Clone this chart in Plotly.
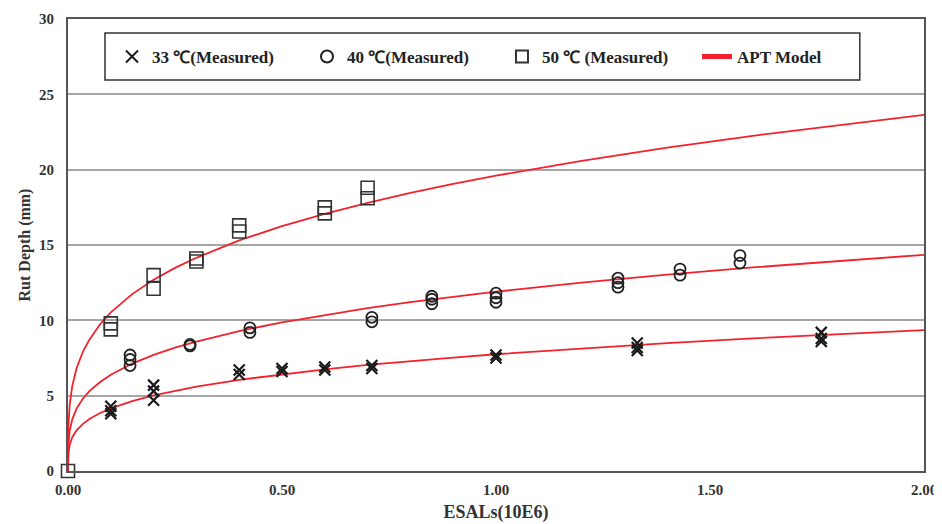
import plotly.graph_objects as go

# Measured data
x33 = [0.10, 0.10, 0.10, 0.20, 0.20, 0.20, 0.40, 0.40, 0.50, 0.50, 0.60, 0.60,
       0.71, 0.71, 1.00, 1.00, 1.33, 1.33, 1.33, 1.76, 1.76, 1.76]
y33 = [4.3, 4.0, 3.8, 5.7, 5.3, 4.7, 6.7, 6.4, 6.8, 6.6, 6.9, 6.7,
       7.0, 6.8, 7.7, 7.5, 8.5, 8.2, 8.0, 9.2, 8.8, 8.6]

x40 = [0.145, 0.145, 0.145, 0.285, 0.285, 0.425, 0.425, 0.71, 0.71, 0.85, 0.85, 0.85,
       1.00, 1.00, 1.00, 1.285, 1.285, 1.285, 1.43, 1.43, 1.57, 1.57]
y40 = [7.7, 7.4, 7.0, 8.4, 8.3, 9.5, 9.2, 10.2, 9.9, 11.6, 11.4, 11.1,
       11.8, 11.5, 11.2, 12.8, 12.5, 12.2, 13.4, 13.0, 14.3, 13.8]

x50 = [0.0, 0.10, 0.10, 0.20, 0.20, 0.30, 0.30, 0.40, 0.40, 0.60, 0.60, 0.70, 0.70]
y50 = [0.0, 9.8, 9.4, 13.0, 12.1, 14.1, 13.9, 16.3, 15.9, 17.5, 17.1, 18.8, 18.1]

# APT model curves
x_model = [0, 0.001, 0.004, 0.01, 0.02, 0.035, 0.05, 0.075, 0.1, 0.15, 0.2, 0.25,
           0.3, 0.4, 0.5, 0.6, 0.7, 0.8, 0.9, 1.0, 1.2, 1.4, 1.6, 1.8, 2.0]
y_model_50 = [0, 3.04, 4.41, 5.65, 6.82, 7.93, 8.72, 9.74, 10.53, 11.74, 12.70, 13.48,
              14.15, 15.31, 16.25, 17.07, 17.80, 18.46, 19.05, 19.6, 20.58, 21.46, 22.25, 22.97, 23.64]
y_model_40 = [0, 1.84, 2.68, 3.43, 4.14, 4.81, 5.30, 5.91, 6.39, 7.13, 7.71, 8.19,
              8.59, 9.29, 9.87, 10.36, 10.81, 11.21, 11.57, 11.9, 12.50, 13.03, 13.51, 13.95, 14.35]
y_model_33 = [0, 1.20, 1.74, 2.24, 2.70, 3.13, 3.45, 3.85, 4.16, 4.64, 5.02, 5.33,
              5.60, 6.05, 6.42, 6.75, 7.04, 7.30, 7.53, 7.75, 8.14, 8.49, 8.80, 9.08, 9.35]

x_ticks = [0.0, 0.5, 1.0, 1.5, 2.0]
x_ticktext = ["0.00", "0.50", "1.00", "1.50", "2.00"]
y_ticks = [0, 5, 10, 15, 20, 25, 30]

names = ["33 ℃(Measured)", "40 ℃(Measured)", "50 ℃ (Measured)", "APT Model"]

SERIF = "Liberation Serif, Times New Roman, serif"
RED = "#f2222c"

fig = go.Figure()

for i, ym in enumerate([y_model_50, y_model_40, y_model_33]):
    fig.add_trace(go.Scatter(
        x=x_model, y=ym, mode="lines",
        line=dict(color=RED, width=1.8),
        name=names[3], legendgroup="apt", showlegend=(i == 0),
        legendrank=4, cliponaxis=True,
    ))

fig.add_trace(go.Scatter(
    x=x33, y=y33, mode="markers", name=names[0], legendrank=1, cliponaxis=False,
    marker=dict(symbol="x-thin-open", size=11, color="#1a1a1a",
                line=dict(color="#1a1a1a", width=2.2)),
))
fig.add_trace(go.Scatter(
    x=x40, y=y40, mode="markers", name=names[1], legendrank=2, cliponaxis=False,
    marker=dict(symbol="circle-open", size=11, color="#222",
                line=dict(color="#222", width=1.8)),
))
fig.add_trace(go.Scatter(
    x=x50, y=y50, mode="markers", name=names[2], legendrank=3, cliponaxis=False,
    marker=dict(symbol="square-open", size=13, color="#333",
                line=dict(color="#333", width=1.6)),
))

# legend frame
fig.add_shape(type="rect", xref="paper", yref="paper",
              x0=0.0432, x1=0.925, y0=0.865, y1=0.969,
              line=dict(color="#333", width=1.5), fillcolor="white", layer="below")

fig.update_layout(
    width=942, height=516,
    margin=dict(l=60, r=26, t=11, b=53),
    paper_bgcolor="white", plot_bgcolor="white",
    font=dict(family=SERIF, color="#222"),
    showlegend=True,
    legend=dict(
        orientation="h",
        x=0.0514, xanchor="left", y=0.916, yanchor="middle",
        bgcolor="rgba(0,0,0,0)", borderwidth=0,
        font=dict(family=SERIF, size=17, color="#222", weight="bold"),
        entrywidth=150, entrywidthmode="pixels",
        itemsizing="constant",
    ),
    xaxis=dict(
        range=[0, 2.0], tickvals=x_ticks, ticktext=x_ticktext,
        showgrid=False, zeroline=False, automargin=False,
        showline=True, linecolor="#555", linewidth=2, mirror=True,
        ticks="", ticklabelstandoff=4,
        tickfont=dict(family=SERIF, size=15, color="#333", weight="bold"),
        title=dict(text="ESALs(10E6)", standoff=8,
                   font=dict(family=SERIF, size=18, color="#333", weight="bold")),
    ),
    yaxis=dict(
        range=[0, 30], tickvals=y_ticks,
        showgrid=True, gridcolor="#a6a6a6", gridwidth=1.5, zeroline=False,
        automargin=False,
        showline=True, linecolor="#555", linewidth=2, mirror=True,
        ticks="", ticklabelstandoff=9,
        tickfont=dict(family=SERIF, size=15, color="#333", weight="bold"),
        title=dict(text="Rut Depth (mm)", standoff=4,
                   font=dict(family=SERIF, size=16, color="#333", weight="bold")),
    ),
)

fig.write_html("out.html")
